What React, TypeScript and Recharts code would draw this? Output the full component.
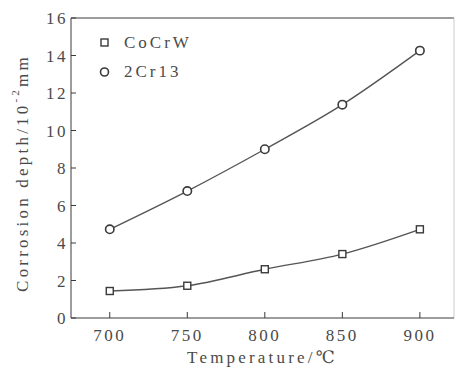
import { ComposedChart, Line, XAxis, YAxis, Legend, ReferenceLine, Label } from 'recharts'

const TEMPS = [700, 750, 800, 850, 900]
const COCRW = [1.44, 1.72, 2.6, 3.41, 4.73]
const CR13 = [4.73, 6.77, 9.0, 11.38, 14.26]
const X_TICKS = [700, 750, 800, 850, 900]
const Y_TICKS = [0, 2, 4, 6, 8, 10, 12, 14, 16]

const FONT = '"Liberation Serif", "DejaVu Serif", serif'
const INK = '#3a3a3a'
const TXT = '#4a4a4a'

const data = TEMPS.map((t, i) => ({ t, cocrw: COCRW[i], cr13: CR13[i] }))

function SquareDot(props: any) {
  const { cx, cy } = props
  if (cx == null || cy == null) return null
  return <rect x={cx - 3.5} y={cy - 3.5} width={7} height={7} fill="#fff" stroke={INK} strokeWidth={1.4} />
}

function CircleDot(props: any) {
  const { cx, cy } = props
  if (cx == null || cy == null) return null
  return <circle cx={cx} cy={cy} r={4.2} fill="#fff" stroke={INK} strokeWidth={1.6} />
}

function LegendBox() {
  const row = { display: 'flex', alignItems: 'center', height: 29, fontFamily: FONT, fontSize: 17, color: TXT, letterSpacing: 3 }
  return (
    <div>
      <div style={row}>
        <svg width={29} height={12}><rect x={6} y={2} width={7} height={7} fill="#fff" stroke={INK} strokeWidth={1.4} /></svg>
        <span>CoCrW</span>
      </div>
      <div style={row}>
        <svg width={29} height={12}><circle cx={9.5} cy={6} r={4} fill="#fff" stroke={INK} strokeWidth={1.6} /></svg>
        <span>2Cr13</span>
      </div>
    </div>
  )
}

function YTitle(props: any) {
  const { viewBox } = props
  const cy = viewBox.y + viewBox.height / 2 + 5
  return (
    <text
      x={22}
      y={cy}
      transform={`rotate(-90, 22, ${cy})`}
      textAnchor="middle"
      dominantBaseline="central"
      fontFamily={FONT}
      fontSize={17}
      fill={TXT}
      style={{ letterSpacing: 3.2 }}
    >
      Corrosion depth/10
      <tspan dy={-7} fontSize={11}>-2</tspan>
      <tspan dy={7}>mm</tspan>
    </text>
  )
}

export default function App() {
  return (
    <div style={{ position: 'absolute', left: 0, top: 0, background: '#fff' }}>
      <ComposedChart width={458} height={369} data={data} margin={{ top: 18, right: 4, bottom: 0, left: 30 }}>
        <XAxis
          dataKey="t"
          type="number"
          domain={[675, 922]}
          ticks={X_TICKS}
          height={51}
          stroke={INK}
          tickSize={-6}
          tickMargin={17}
          tick={{ fontFamily: FONT, fontSize: 17, fill: TXT, style: { letterSpacing: 2.5 } }}
          allowDataOverflow
        >
          <Label
            value="Temperature/℃"
            position="insideBottom"
            offset={6}
            style={{ fontFamily: FONT, fontSize: 17, fill: TXT, letterSpacing: 3.2 }}
          />
        </XAxis>
        <YAxis
          type="number"
          domain={[0, 16]}
          ticks={Y_TICKS}
          width={41}
          stroke={INK}
          tickSize={-5}
          tickMargin={8}
          tick={{ fontFamily: FONT, fontSize: 17, fill: TXT, style: { letterSpacing: 2.5 } }}
          label={<YTitle />}
        />
        <ReferenceLine y={16} stroke={INK} strokeWidth={1} />
        <ReferenceLine x={922} stroke="#ccc" strokeWidth={1} />
        <Legend
          layout="vertical"
          verticalAlign="middle"
          align="center"
          wrapperStyle={{ top: 28, left: 95, width: 130 }}
          content={<LegendBox />}
        />
        <Line
          type="monotone"
          dataKey="cocrw"
          stroke="#555"
          strokeWidth={1.4}
          dot={<SquareDot />}
          isAnimationActive={false}
        />
        <Line
          type="monotone"
          dataKey="cr13"
          stroke="#555"
          strokeWidth={1.4}
          dot={<CircleDot />}
          isAnimationActive={false}
        />
      </ComposedChart>
    </div>
  )
}
